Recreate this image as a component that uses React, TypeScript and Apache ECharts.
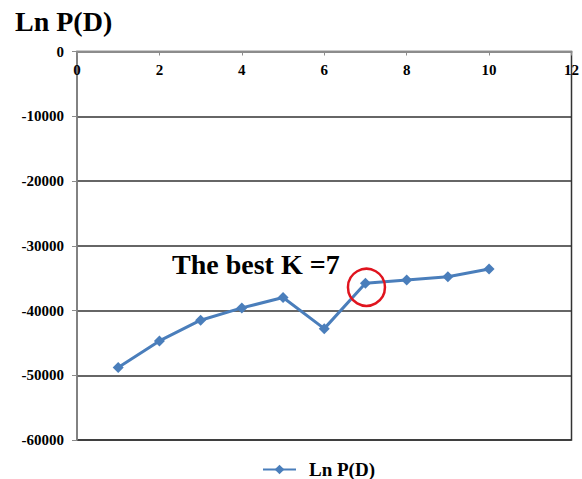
import React, { useEffect, useRef } from "react";
import * as echarts from "echarts";

// K values (number of clusters) and their mean log-likelihood
const kValues = [1, 2, 3, 4, 5, 6, 7, 8, 9, 10];
const lnPD = [-48800, -44700, -41500, -39600, -38000, -42800, -35800, -35300, -34800, -33600];

const seriesName = "Ln P(D)";
const bestK = 7;
const annotation = "The best K =7";

const xTicks = { min: 0, max: 12, interval: 2 };
const yTicks = { min: -60000, max: 0, interval: 10000 };

const SERIF = "Liberation Serif";

export default function App() {
  const ref = useRef<HTMLDivElement>(null);

  useEffect(() => {
    if (!ref.current) return;
    const chart = echarts.init(ref.current, undefined, { renderer: "svg" });
    const bestIdx = kValues.indexOf(bestK);

    chart.setOption({
      animation: false,
      backgroundColor: "#ffffff",
      title: {
        text: seriesName,
        left: 10,
        top: 2,
        textStyle: { fontFamily: SERIF, fontWeight: "bold", fontSize: 28, color: "#000" },
      },
      grid: {
        left: 77,
        top: 51.5,
        right: 7,
        bottom: 39,
        show: true,
        borderColor: "#333",
        borderWidth: 1.5,
        backgroundColor: "transparent",
      },
      legend: {
        data: [seriesName],
        left: 257,
        top: 455,
        itemWidth: 33,
        itemHeight: 12,
        itemGap: 8,
        textStyle: { fontFamily: SERIF, fontWeight: "bold", fontSize: 19, color: "#000", padding: [0, 0, 0, 8] },
      },
      xAxis: {
        type: "value",
        position: "top",
        min: xTicks.min,
        max: xTicks.max,
        interval: xTicks.interval,
        axisLine: { show: true, lineStyle: { color: "#8c8c8c", width: 2 } },
        axisTick: { show: true, inside: true, length: 4, lineStyle: { color: "#8c8c8c" } },
        axisLabel: {
          inside: true,
          margin: 11,
          fontFamily: SERIF,
          fontWeight: "bold",
          fontSize: 15,
          color: "#000",
          verticalAlign: "top",
        },
        splitLine: { show: false },
      },
      yAxis: {
        type: "value",
        min: yTicks.min,
        max: yTicks.max,
        interval: yTicks.interval,
        axisLine: { show: true, onZero: false, lineStyle: { color: "#8c8c8c", width: 1.5 } },
        axisTick: { show: true, length: 5, lineStyle: { color: "#8c8c8c" } },
        axisLabel: {
          margin: 13,
          fontFamily: SERIF,
          fontWeight: "bold",
          fontSize: 15,
          color: "#000",
          formatter: (v: number) => String(v),
        },
        splitLine: { show: true, lineStyle: { color: "#333", width: 1.5 } },
      },
      series: [
        {
          name: seriesName,
          type: "line",
          data: kValues.map((k, i) => [k, lnPD[i]]),
          symbol: "diamond",
          symbolSize: 11,
          lineStyle: { color: "#4a7ebb", width: 3 },
          itemStyle: { color: "#4a7ebb" },
          markPoint: {
            silent: true,
            symbol: "circle",
            symbolSize: 37,
            symbolOffset: [1, 4],
            itemStyle: { color: "transparent", borderColor: "#e0141e", borderWidth: 2.5 },
            label: { show: false },
            data: [{ coord: [kValues[bestIdx], lnPD[bestIdx]] }],
          },
        },
      ],
      graphic: [
        {
          type: "text",
          left: 172,
          top: 250,
          style: {
            text: annotation,
            fontFamily: SERIF,
            fontWeight: "bold",
            fontSize: 28,
            fill: "#000",
          },
        },
      ],
    });

    return () => chart.dispose();
  }, []);

  return (
    <div
      ref={ref}
      style={{ position: "fixed", left: 0, top: 0, width: 582, height: 479 }}
    />
  );
}
